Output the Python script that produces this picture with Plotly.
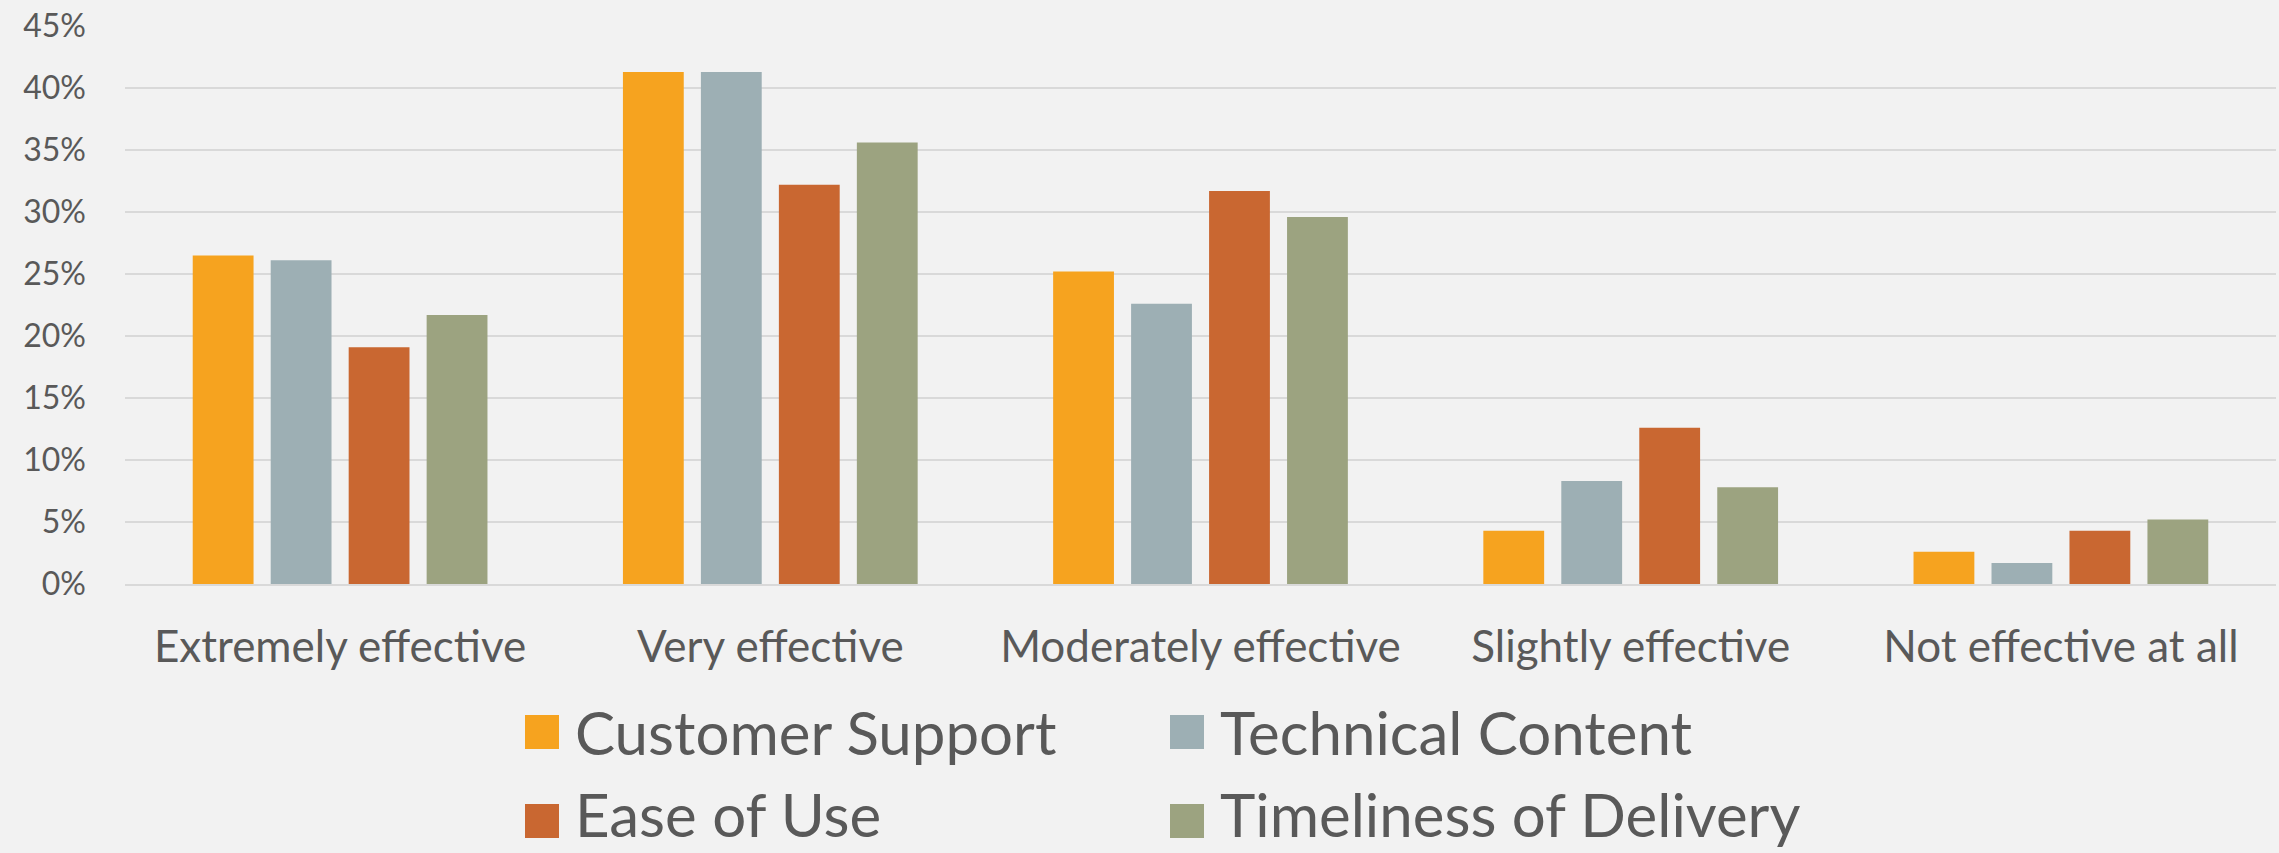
import plotly.graph_objects as go

# Survey responses: share of respondents per effectiveness rating
categories = ["Extremely effective", "Very effective", "Moderately effective",
              "Slightly effective", "Not effective at all"]
customer_support = [26.5, 41.3, 25.2, 4.3, 2.6]
technical_content = [26.1, 41.3, 22.6, 8.3, 1.7]
ease_of_use = [19.1, 32.2, 31.7, 12.6, 4.3]
timeliness_of_delivery = [21.7, 35.6, 29.6, 7.8, 5.2]

series_names = ["Customer Support", "Technical Content", "Ease of Use",
                "Timeliness of Delivery"]
series_values = [customer_support, technical_content, ease_of_use,
                 timeliness_of_delivery]
series_colors = ["#F6A31F", "#9DAFB4", "#C96731", "#9CA380"]

y_ticks = [0, 5, 10, 15, 20, 25, 30, 35, 40, 45]
y_tick_labels = [f"{v}%" for v in y_ticks]

W, H = 2279, 853
ML, MR, MT, MB = 125, 3, 26, 269
PW, PH = W - ML - MR, H - MT - MB
FONT = "Lato, 'Open Sans', sans-serif"
TEXT = "#595959"
BG = "#F2F2F2"


def paper_x(px):
    return (px - ML) / PW


def paper_y(py):
    return (H - MB - py) / PH


fig = go.Figure()
for name, vals, col in zip(series_names, series_values, series_colors):
    fig.add_trace(go.Bar(x=categories, y=vals, name=name,
                         marker=dict(color=col, line=dict(width=0)),
                         showlegend=False))

# Two-column legend with large square swatches
legend_cols = [525, 1170]
swatch_rows = [732, 821]
text_rows = [732, 814]
swatch = 34
for i, (name, col) in enumerate(zip(series_names, series_colors)):
    cx = legend_cols[i % 2]
    cy = swatch_rows[i // 2]
    fig.add_shape(type="rect", xref="paper", yref="paper",
                  x0=paper_x(cx), x1=paper_x(cx + swatch),
                  y0=paper_y(cy + swatch / 2), y1=paper_y(cy - swatch / 2),
                  fillcolor=col, line=dict(width=0), layer="above")
    fig.add_annotation(text=name, xref="paper", yref="paper",
                       x=paper_x(cx + swatch + 14), y=paper_y(text_rows[i // 2]),
                       xanchor="left", yanchor="middle", showarrow=False,
                       font=dict(family=FONT, size=60, color=TEXT))

fig.update_layout(
    width=W, height=H,
    margin=dict(l=ML, r=MR, t=MT, b=MB, autoexpand=False),
    paper_bgcolor=BG, plot_bgcolor=BG,
    barmode="group", bargap=0.275, bargroupgap=0.22,
    font=dict(family=FONT, color=TEXT),
)
fig.update_xaxes(showgrid=False, showline=True, linecolor="#D9D9D9",
                 linewidth=2, ticks="", ticklabelstandoff=23,
                 tickfont=dict(family=FONT, size=44, color=TEXT),
                 automargin=False)
fig.update_yaxes(range=[0, 45], tickvals=y_ticks, ticktext=y_tick_labels,
                 showgrid=True, gridcolor="#D9D9D9", gridwidth=2,
                 zeroline=False, showline=False, ticks="",
                 ticklabelstandoff=38,
                 tickfont=dict(family=FONT, size=32, color=TEXT),
                 automargin=False)

fig.write_html("out.html")
